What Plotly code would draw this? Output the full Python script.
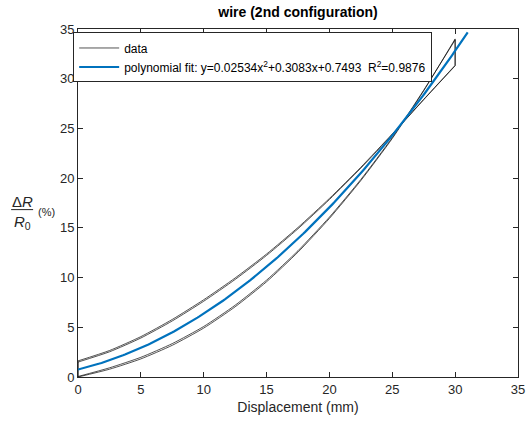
import numpy as np
import plotly.graph_objects as go

# Displacement grid (mm) for the measured loading / unloading branches
disp = [0, 2.5, 5, 7.5, 10, 12.5, 15, 17.5, 20, 22.5, 25, 27.5, 30]

# Relative resistance change (%) - two cycles, loading and unloading
load_1 = [0.00, 0.78, 1.82, 3.19, 4.92, 7.06, 9.58, 12.56, 15.95, 19.76, 23.99, 28.79, 34.00]
unload_1 = [1.50, 2.53, 3.92, 5.64, 7.62, 9.81, 12.23, 14.91, 17.85, 21.01, 24.39, 27.89, 31.30]
load_2 = [0.05, 0.92, 1.98, 3.36, 5.08, 7.22, 9.74, 12.70, 16.08, 19.87, 24.08, 28.85, 33.90]
unload_2 = [1.62, 2.66, 4.06, 5.79, 7.77, 9.96, 12.37, 15.04, 17.96, 21.10, 24.45, 27.92, 31.35]

# Quadratic fit coefficients and goodness of fit
coef = [0.02534, 0.3083, 0.7493]
r2 = 0.9876
fit_range = [0, 31]

fig = go.Figure()

data_line = dict(color="rgba(0,0,0,0.85)", width=0.8)
cycles = [(load_1, unload_1), (load_2, unload_2)]
first = True
for up, down in cycles:
    # smooth loading and unloading branches
    for branch in (up, down):
        fig.add_trace(go.Scatter(
            x=disp, y=branch, mode="lines",
            line=dict(**data_line, shape="spline", smoothing=0.6),
            name="data", legendgroup="data", showlegend=first, legendrank=1,
        ))
        first = False
    # sharp drops at the turning points (30 mm and back at 0 mm)
    fig.add_trace(go.Scatter(
        x=[disp[-1], disp[-1]], y=[up[-1], down[-1]], mode="lines",
        line=data_line, legendgroup="data", showlegend=False,
    ))
    fig.add_trace(go.Scatter(
        x=[disp[0], disp[0]], y=[down[0], up[0]], mode="lines",
        line=data_line, legendgroup="data", showlegend=False,
    ))

xf = np.linspace(fit_range[0], fit_range[1], 200)
yf = np.polyval(coef, xf)
fit_name = ("polynomial fit: y={:.5g}x<sup>2</sup>+{:.4g}x+{:.4g}\u00a0\u00a0R<sup>2</sup>={:.4g}"
            .format(coef[0], coef[1], coef[2], r2))
fig.add_trace(go.Scatter(
    x=xf, y=yf, mode="lines",
    line=dict(color="#0072BD", width=2.2),
    name=fit_name, legendrank=2,
))

axis_common = dict(
    range=[0, 35], dtick=5, ticks="inside", ticklen=5, tickwidth=1,
    tickcolor="#262626", showline=True, linecolor="#262626", linewidth=1,
    mirror="ticks", showgrid=False, zeroline=False, automargin=False,
    tickfont=dict(family="Liberation Sans, Arial, sans-serif", size=13, color="#262626"),
)

fig.update_layout(
    width=526, height=423,
    margin=dict(l=78, r=8, t=29, b=46),
    paper_bgcolor="white", plot_bgcolor="white",
    title=dict(
        text="<b>wire (2nd configuration)</b>",
        x=0.5666, xanchor="center", y=1 - 12 / 423, yanchor="middle", yref="container",
        font=dict(family="Liberation Sans, Arial, sans-serif", size=14, color="black"),
    ),
    xaxis=dict(**axis_common, title=dict(
        text="Displacement (mm)", standoff=6,
        font=dict(family="Liberation Sans, Arial, sans-serif", size=14, color="#262626"))),
    yaxis=dict(**axis_common),
    legend=dict(
        x=-0.011, y=0.99, xanchor="left", yanchor="top",
        bgcolor="white", bordercolor="#262626", borderwidth=1,
        font=dict(family="Liberation Sans, Arial, sans-serif", size=12, color="black"),
        itemwidth=40, tracegroupgap=0,
    ),
    showlegend=True,
)

label_font = dict(family="Liberation Sans, Arial, sans-serif", color="#262626")
fig.add_annotation(text="Δ<i>R</i>", x=-0.127, y=0.503, xref="paper", yref="paper",
                   showarrow=False, font=dict(size=15, **label_font), xanchor="center", yanchor="middle")
fig.add_annotation(text="<i>R</i><sub>0</sub>", x=-0.127, y=0.443, xref="paper", yref="paper",
                   showarrow=False, font=dict(size=15, **label_font), xanchor="center", yanchor="middle")
fig.add_annotation(text="(%)", x=-0.072, y=0.474, xref="paper", yref="paper",
                   showarrow=False, font=dict(size=11, **label_font), xanchor="center", yanchor="middle")
fig.add_shape(type="line", xref="paper", yref="paper",
              x0=-0.152, x1=-0.102, y0=0.481, y1=0.481,
              line=dict(color="#262626", width=1))

fig.write_html("out.html")
